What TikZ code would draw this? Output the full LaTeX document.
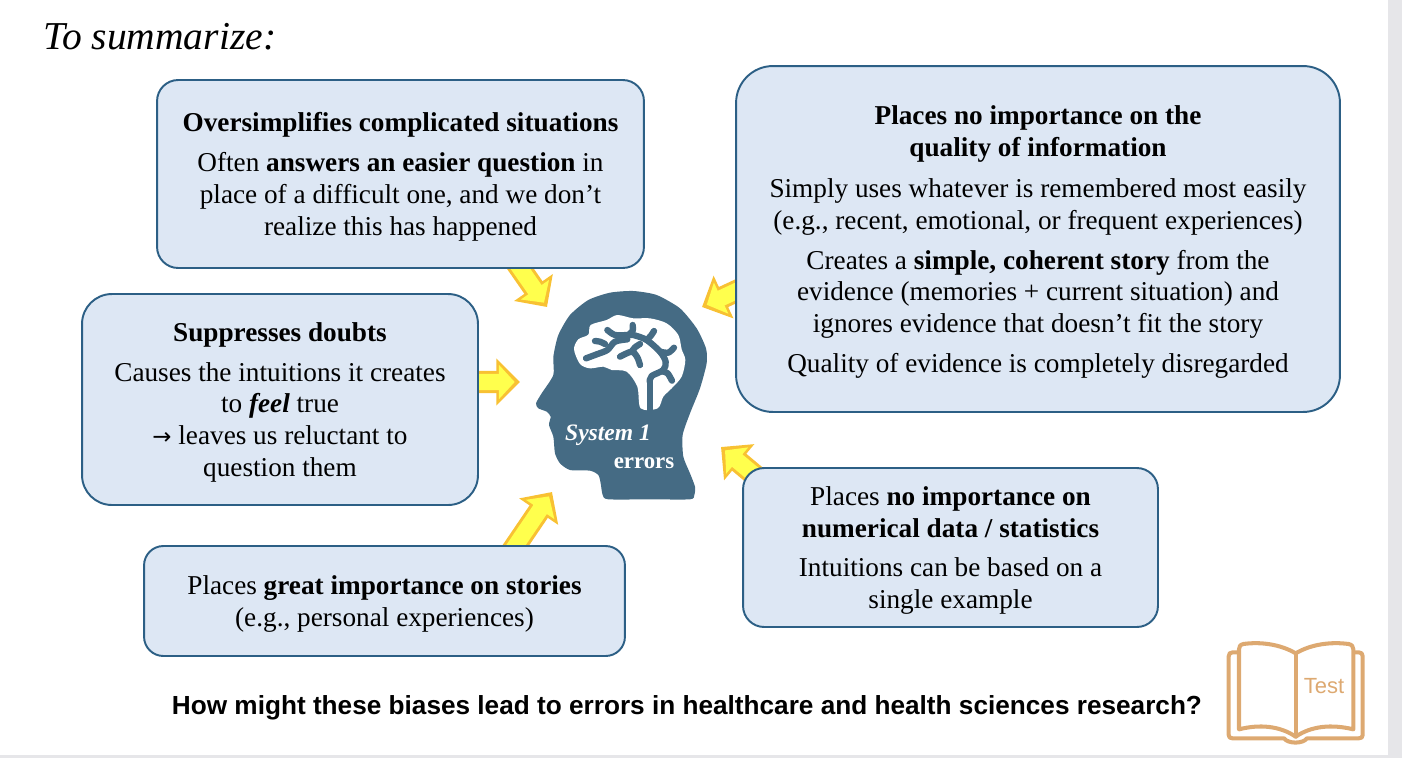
\documentclass[tikz,border=0pt]{standalone}
\usepackage{fontspec}
\setmainfont{Liberation Serif}
\newfontfamily\questionfont{Liberation Sans}
\newfontfamily\arrowfont{DejaVu Sans}
\usetikzlibrary{arrows.meta,backgrounds}
\definecolor{boxfill}{HTML}{DDE7F4}
\definecolor{boxedge}{HTML}{2C5F85}
\definecolor{headblue}{HTML}{456B84}
\definecolor{arrowfill}{HTML}{FFFF4D}
\definecolor{arrowedge}{HTML}{F8C133}
\definecolor{bookline}{HTML}{DDA971}
\definecolor{pagegrey}{HTML}{E6E6E9}
\newcommand{\firstline}{\rule{0pt}{14pt}}
\tikzset{
	infobox/.style={draw=boxedge,fill=boxfill,line width=1.1pt,align=center,inner sep=0pt,
		font=\fontsize{15.5}{18.1}\selectfont},
	bigarrow/.style={preaction={draw=arrowedge,line width=12.6pt,shorten >=0pt,-{Triangle[length=13.5pt,width=26pt]}},
		draw=arrowfill,line width=9.2pt,shorten >=3pt,-{Triangle[length=9pt,width=19pt]}},
	brainbranch/.style={draw=headblue,line width=3.6pt,line cap=round,line join=round},
	bookedge/.style={draw=bookline,line width=2.3pt,line join=round,line cap=round}
}
\begin{document}
\begin{tikzpicture}[x=0.02cm,y=-0.02cm]
	\useasboundingbox (0,0) rectangle (1402,758);
	%page edge
		\fill[pagegrey] (1388,0) rectangle (1402,758);
		\fill[pagegrey] (0,755) rectangle (1402,758);
	%title
		\node (title) at (160,37) {\fontsize{22.5}{28}\selectfont\itshape To summarize:};
	%boxes
		\node[infobox,rounded corners=12pt,minimum width=9.74cm,minimum height=3.76cm] (oversimplify) at (400.5,174)
			{\firstline\textbf{Oversimplifies complicated situations}\\[4.5pt]
			Often \textbf{answers an easier question} in\\
			place of a difficult one, and we don't\\
			realize this has happened};
		\node[infobox,rounded corners=17pt,minimum width=7.92cm,minimum height=4.22cm] (doubts) at (280,399.5)
			{\firstline\textbf{Suppresses doubts}\\[4.5pt]
			Causes the intuitions it creates\\
			to \textbf{\textit{feel}} true\\
			{\arrowfont\fontsize{13}{18.1}\selectfont →} leaves us reluctant to\\
			question them};
		\node[infobox,rounded corners=21pt,minimum width=12.08cm,minimum height=6.92cm] (quality) at (1038,239)
			{\firstline\textbf{Places no importance on the}\\
			\textbf{quality of information}\\[5.5pt]
			Simply uses whatever is remembered most easily\\
			(e.g., recent, emotional, or frequent experiences)\\[4.5pt]
			Creates a \textbf{simple, coherent story} from the\\
			evidence (memories + current situation) and\\
			ignores evidence that doesn't fit the story\\[4.5pt]
			Quality of evidence is completely disregarded};
		\node[infobox,rounded corners=12pt,minimum width=8.3cm,minimum height=3.18cm] (numbers) at (950.5,547.5)
			{\firstline Places \textbf{no importance on}\\
			\textbf{numerical data / statistics}\\[4.5pt]
			Intuitions can be based on a\\
			single example};
		\node[infobox,rounded corners=11pt,minimum width=9.62cm,minimum height=2.2cm] (stories) at (384.5,601)
			{\firstline Places \textbf{great importance on stories}\\
			(e.g., personal experiences)};
	%arrow tips
		\coordinate (tipa) at (547,307);
		\coordinate (tipb) at (520,382);
		\coordinate (tipc) at (702,307);
		\coordinate (tipd) at (721,447);
		\coordinate (tipe) at (552,492);
	%yellow arrows, behind the boxes
		\begin{pgfonlayer}{background}
			\draw[bigarrow] ([xshift=2.22cm,yshift=.26cm]oversimplify.south) -- (tipa);
			\draw[bigarrow] ([xshift=-.2cm,yshift=.35cm]doubts.east) -- (tipb);
			\draw[bigarrow] ([xshift=.48cm,yshift=-.83cm]quality.west) -- (tipc);
			\draw[bigarrow] ([xshift=-3.61cm,yshift=-.42cm]numbers.north) -- (tipd);
			\draw[bigarrow] ([xshift=2.44cm,yshift=-.28cm]stories.north) -- (tipe);
		\end{pgfonlayer}
	%head with brain
		\begin{scope}[shift={(500,260)},x=0.00667cm,y=-0.00667cm]
			\fill[headblue] plot[smooth cycle,tension=.4] coordinates {(108,430) (125,400) (160,345) (160,290)
				(175,225) (210,165) (265,120) (330,98) (400,93) (470,105) (540,145) (590,205) (618,265) (620,310)
				(600,385) (570,460) (548,525) (550,590) (570,640) (585,680) (583,705) (570,718) (450,718) (325,718) (308,705)
				(302,670) (295,645) (270,632) (210,630) (180,610) (165,580) (160,530) (147,495) (152,470) (140,455) (115,445)};
			\fill[white] plot[smooth cycle,tension=.5] coordinates {(222,268) (235,238) (265,224) (272,195) (320,180)
				(352,165) (400,175) (450,175) (500,190) (535,225) (545,268) (556,300) (545,350) (515,385) (490,410)
				(473,445) (422,445) (412,380) (380,335) (335,330) (310,320) (270,325) (240,312)};
			\draw[brainbranch] (449,450) -- (449,365);
			\draw[brainbranch] plot[smooth] coordinates {(449,365) (455,348) (490,330) (497,305) (480,275) (440,240) (400,225) (385,225) (345,225) (322,210)};
			\draw[brainbranch] plot[smooth] coordinates {(385,225) (398,212) (398,195)};
			\draw[brainbranch] plot[smooth] coordinates {(440,240) (452,228) (462,213)};
			\draw[brainbranch] plot[smooth] coordinates {(480,275) (505,278) (522,263)};
			\draw[brainbranch] plot[smooth] coordinates {(490,335) (503,340) (516,362)};
			\draw[brainbranch] plot[smooth] coordinates {(382,238) (345,245) (322,270) (290,283) (258,295)};
			\draw[brainbranch] plot[smooth] coordinates {(285,243) (300,245) (315,252)};
			\draw[brainbranch] plot[smooth] coordinates {(360,290) (395,275) (412,292) (420,315)};
			\draw[brainbranch] plot[smooth] coordinates {(395,275) (405,262) (420,252)};
		\end{scope}
		\node[text=white,font=\fontsize{13.4}{16}\selectfont\bfseries\itshape] (system) at (608,435) {System 1};
		\node[text=white,font=\fontsize{13}{16}\selectfont\bfseries] (errors) at (644,463) {errors};
	%question
		\node[font=\questionfont\fontsize{14.9}{18}\selectfont\bfseries] (question) at (687,708)
			{How might these biases lead to errors in healthcare and health sciences research?};
	%book
		\begin{scope}[shift={(1180,620)},x=0.00667cm,y=-0.00667cm]
			\draw[bookedge] (347,100) .. controls (300,72) and (240,65) .. (190,72) .. controls (180,74) and (177,80) .. (177,88)
				-- (177,328) .. controls (240,312) and (300,318) .. (347,350) .. controls (394,318) and (454,312) .. (520,328)
				-- (520,88) .. controls (520,80) and (516,74) .. (506,72) .. controls (454,65) and (394,72) .. (347,100) -- cycle;
			\draw[bookedge] (347,100) -- (347,350);
			\draw[bookedge] (170,97) -- (158,97) .. controls (150,97) and (146,101) .. (146,109) -- (146,345)
				.. controls (146,352) and (150,355) .. (158,355) -- (312,355) .. controls (325,372) and (368,372) .. (381,355)
				-- (536,355) .. controls (544,355) and (548,352) .. (548,345) -- (548,109) .. controls (548,101) and (544,97) .. (536,97) -- (525,97);
		\end{scope}
		\node[text=bookline,font=\questionfont\fontsize{12.5}{14}\selectfont] (test) at (1324,686) {Test};
\end{tikzpicture}
\end{document}
